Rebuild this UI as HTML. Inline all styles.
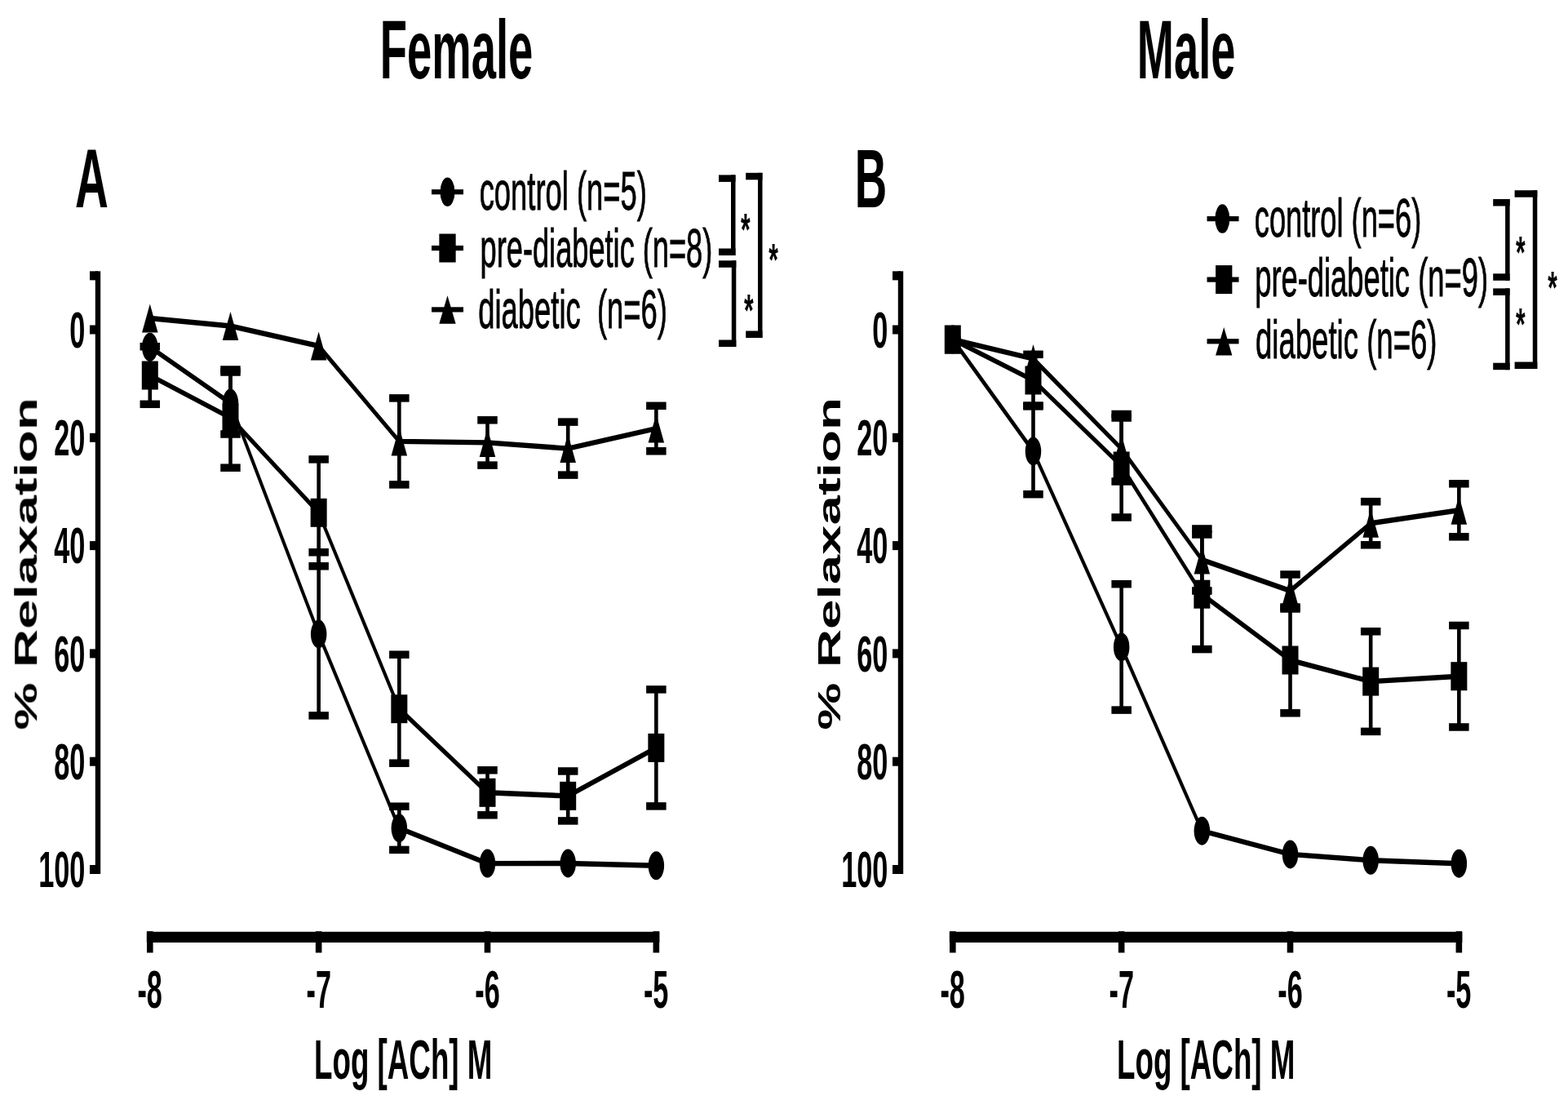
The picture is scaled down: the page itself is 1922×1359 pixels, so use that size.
<!DOCTYPE html>
<html><head><meta charset="utf-8"><title>Relaxation</title>
<style>
html,body{margin:0;padding:0;background:#fff;}
body{width:1922px;height:1359px;overflow:hidden;}
svg{display:block;}
text{font-family:"Liberation Sans",Arial,sans-serif;fill:#000;white-space:pre;}
</style></head><body>
<svg width="1922" height="1359" viewBox="0 0 1922 1359">
<defs><filter id="soft" x="0" y="0" width="1" height="1"><feGaussianBlur stdDeviation="0.7"/></filter></defs>
<rect width="1922" height="1359" fill="#fff"/>
<g fill="#000" filter="url(#soft)">
<rect x="116.80" y="332.35" width="6.40" height="738.65"/>
<rect x="110.00" y="332.35" width="10.00" height="11.00"/>
<rect x="110.00" y="398.50" width="10.00" height="11.00"/>
<rect x="110.00" y="530.80" width="10.00" height="11.00"/>
<rect x="110.00" y="663.10" width="10.00" height="11.00"/>
<rect x="110.00" y="795.40" width="10.00" height="11.00"/>
<rect x="110.00" y="927.70" width="10.00" height="11.00"/>
<rect x="110.00" y="1060.00" width="10.00" height="11.00"/>
<text transform="translate(85.32,425.67) scale(0.5450,1)" font-size="63.0" font-weight="bold">0</text>
<text transform="translate(66.23,557.97) scale(0.5450,1)" font-size="63.0" font-weight="bold">20</text>
<text transform="translate(66.23,690.27) scale(0.5450,1)" font-size="63.0" font-weight="bold">40</text>
<text transform="translate(66.23,822.57) scale(0.5450,1)" font-size="63.0" font-weight="bold">60</text>
<text transform="translate(66.23,954.87) scale(0.5450,1)" font-size="63.0" font-weight="bold">80</text>
<text transform="translate(47.14,1087.17) scale(0.5450,1)" font-size="63.0" font-weight="bold">100</text>
<rect x="179.80" y="1141.80" width="628.55" height="13.20"/>
<rect x="180.00" y="1141.20" width="7.60" height="26.30"/>
<text transform="translate(168.44,1235.10) scale(0.5350,1)" font-size="64.0" font-weight="bold">-8</text>
<rect x="386.85" y="1141.20" width="7.60" height="26.30"/>
<text transform="translate(375.52,1235.20) scale(0.5350,1)" font-size="64.0" font-weight="bold">-7</text>
<rect x="593.70" y="1141.20" width="7.60" height="26.30"/>
<text transform="translate(582.23,1235.10) scale(0.5350,1)" font-size="64.0" font-weight="bold">-6</text>
<rect x="800.55" y="1141.20" width="7.60" height="26.30"/>
<text transform="translate(788.94,1235.10) scale(0.5350,1)" font-size="64.0" font-weight="bold">-5</text>
<text transform="translate(385.04,1322.00) scale(0.5327,1)" font-size="69.0" font-weight="bold">Log [ACh] M</text>
<text transform="translate(45.50,894.64) rotate(-90) scale(1.0001,0.5814)" font-size="65.5" font-weight="bold">% Relaxation</text>
<polyline transform="scale(0.56,1)" points="328.21,425.30 504.45,494.00 697.59,777.00 873.83,1014.80 1066.96,1058.10 1243.20,1058.00 1436.34,1060.80" fill="none" stroke="#000" stroke-width="6.4" stroke-linejoin="round"/>
<polyline transform="scale(0.56,1)" points="328.21,460.00 504.45,512.00 697.59,628.30 873.83,868.70 1066.96,971.30 1243.20,975.40 1436.34,916.40" fill="none" stroke="#000" stroke-width="6.4" stroke-linejoin="round"/>
<polyline transform="scale(0.56,1)" points="328.21,390.00 504.45,399.50 697.59,424.00 873.83,540.90 1066.96,542.40 1243.20,549.60 1436.34,525.05" fill="none" stroke="#000" stroke-width="6.4" stroke-linejoin="round"/>
<rect x="280.19" y="456.00" width="4.60" height="38.00"/>
<rect x="270.24" y="451.25" width="24.50" height="9.50"/>
<rect x="280.19" y="494.00" width="4.60" height="38.00"/>
<rect x="270.24" y="527.25" width="24.50" height="9.50"/>
<rect x="388.35" y="676.80" width="4.60" height="100.20"/>
<rect x="378.40" y="672.05" width="24.50" height="9.50"/>
<rect x="388.35" y="777.00" width="4.60" height="99.90"/>
<rect x="378.40" y="872.15" width="24.50" height="9.50"/>
<rect x="487.04" y="988.20" width="4.60" height="26.60"/>
<rect x="477.09" y="983.45" width="24.50" height="9.50"/>
<rect x="487.04" y="1014.80" width="4.60" height="26.60"/>
<rect x="477.09" y="1036.65" width="24.50" height="9.50"/>
<rect x="181.50" y="424.70" width="4.60" height="35.30"/>
<rect x="171.55" y="419.95" width="24.50" height="9.50"/>
<rect x="181.50" y="460.00" width="4.60" height="35.30"/>
<rect x="171.55" y="490.55" width="24.50" height="9.50"/>
<rect x="280.19" y="453.00" width="4.60" height="59.00"/>
<rect x="270.24" y="448.25" width="24.50" height="9.50"/>
<rect x="280.19" y="512.00" width="4.60" height="61.20"/>
<rect x="270.24" y="568.45" width="24.50" height="9.50"/>
<rect x="388.35" y="562.90" width="4.60" height="65.40"/>
<rect x="378.40" y="558.15" width="24.50" height="9.50"/>
<rect x="388.35" y="628.30" width="4.60" height="65.50"/>
<rect x="378.40" y="689.05" width="24.50" height="9.50"/>
<rect x="487.04" y="802.20" width="4.60" height="66.50"/>
<rect x="477.09" y="797.45" width="24.50" height="9.50"/>
<rect x="487.04" y="868.70" width="4.60" height="66.50"/>
<rect x="477.09" y="930.45" width="24.50" height="9.50"/>
<rect x="595.20" y="943.80" width="4.60" height="27.50"/>
<rect x="585.25" y="939.05" width="24.50" height="9.50"/>
<rect x="595.20" y="971.30" width="4.60" height="27.50"/>
<rect x="585.25" y="994.05" width="24.50" height="9.50"/>
<rect x="693.89" y="945.00" width="4.60" height="30.40"/>
<rect x="683.94" y="940.25" width="24.50" height="9.50"/>
<rect x="693.89" y="975.40" width="4.60" height="30.50"/>
<rect x="683.94" y="1001.15" width="24.50" height="9.50"/>
<rect x="802.05" y="844.90" width="4.60" height="71.50"/>
<rect x="792.10" y="840.15" width="24.50" height="9.50"/>
<rect x="802.05" y="916.40" width="4.60" height="71.50"/>
<rect x="792.10" y="983.15" width="24.50" height="9.50"/>
<rect x="487.04" y="487.90" width="4.60" height="53.00"/>
<rect x="477.09" y="483.15" width="24.50" height="9.50"/>
<rect x="487.04" y="540.90" width="4.60" height="53.00"/>
<rect x="477.09" y="589.15" width="24.50" height="9.50"/>
<rect x="595.20" y="514.80" width="4.60" height="27.60"/>
<rect x="585.25" y="510.05" width="24.50" height="9.50"/>
<rect x="595.20" y="542.40" width="4.60" height="27.70"/>
<rect x="585.25" y="565.35" width="24.50" height="9.50"/>
<rect x="693.89" y="517.10" width="4.60" height="32.50"/>
<rect x="683.94" y="512.35" width="24.50" height="9.50"/>
<rect x="693.89" y="549.60" width="4.60" height="32.50"/>
<rect x="683.94" y="577.35" width="24.50" height="9.50"/>
<rect x="802.05" y="497.30" width="4.60" height="27.75"/>
<rect x="792.10" y="492.55" width="24.50" height="9.50"/>
<rect x="802.05" y="525.05" width="4.60" height="27.75"/>
<rect x="792.10" y="548.05" width="24.50" height="9.50"/>
<ellipse cx="183.80" cy="425.30" rx="9.75" ry="17.50"/>
<ellipse cx="282.49" cy="494.00" rx="9.75" ry="17.50"/>
<ellipse cx="390.65" cy="777.00" rx="9.75" ry="17.50"/>
<ellipse cx="489.34" cy="1014.80" rx="9.75" ry="17.50"/>
<ellipse cx="597.50" cy="1058.10" rx="9.75" ry="17.50"/>
<ellipse cx="696.19" cy="1058.00" rx="9.75" ry="17.50"/>
<ellipse cx="804.35" cy="1060.80" rx="9.75" ry="17.50"/>
<rect x="173.80" y="442.50" width="20.00" height="35.00"/>
<rect x="272.49" y="494.50" width="20.00" height="35.00"/>
<rect x="380.65" y="610.80" width="20.00" height="35.00"/>
<rect x="479.34" y="851.20" width="20.00" height="35.00"/>
<rect x="587.50" y="953.80" width="20.00" height="35.00"/>
<rect x="686.19" y="957.90" width="20.00" height="35.00"/>
<rect x="794.35" y="898.90" width="20.00" height="35.00"/>
<polygon points="183.80,372.50 193.55,407.50 174.05,407.50"/>
<polygon points="282.49,382.00 292.24,417.00 272.74,417.00"/>
<polygon points="390.65,406.50 400.40,441.50 380.90,441.50"/>
<polygon points="489.34,523.40 499.09,558.40 479.59,558.40"/>
<polygon points="597.50,524.90 607.25,559.90 587.75,559.90"/>
<polygon points="696.19,532.10 705.94,567.10 686.44,567.10"/>
<polygon points="804.35,507.55 814.10,542.55 794.60,542.55"/>
<rect x="1100.80" y="332.35" width="6.40" height="738.65"/>
<rect x="1094.00" y="332.35" width="10.00" height="11.00"/>
<rect x="1094.00" y="398.50" width="10.00" height="11.00"/>
<rect x="1094.00" y="530.80" width="10.00" height="11.00"/>
<rect x="1094.00" y="663.10" width="10.00" height="11.00"/>
<rect x="1094.00" y="795.40" width="10.00" height="11.00"/>
<rect x="1094.00" y="927.70" width="10.00" height="11.00"/>
<rect x="1094.00" y="1060.00" width="10.00" height="11.00"/>
<text transform="translate(1069.32,425.67) scale(0.5450,1)" font-size="63.0" font-weight="bold">0</text>
<text transform="translate(1050.23,557.97) scale(0.5450,1)" font-size="63.0" font-weight="bold">20</text>
<text transform="translate(1050.23,690.27) scale(0.5450,1)" font-size="63.0" font-weight="bold">40</text>
<text transform="translate(1050.23,822.57) scale(0.5450,1)" font-size="63.0" font-weight="bold">60</text>
<text transform="translate(1050.23,954.87) scale(0.5450,1)" font-size="63.0" font-weight="bold">80</text>
<text transform="translate(1031.14,1087.17) scale(0.5450,1)" font-size="63.0" font-weight="bold">100</text>
<rect x="1163.80" y="1141.80" width="628.55" height="13.20"/>
<rect x="1164.00" y="1141.20" width="7.60" height="26.30"/>
<text transform="translate(1152.44,1235.10) scale(0.5350,1)" font-size="64.0" font-weight="bold">-8</text>
<rect x="1370.85" y="1141.20" width="7.60" height="26.30"/>
<text transform="translate(1359.52,1235.20) scale(0.5350,1)" font-size="64.0" font-weight="bold">-7</text>
<rect x="1577.70" y="1141.20" width="7.60" height="26.30"/>
<text transform="translate(1566.23,1235.10) scale(0.5350,1)" font-size="64.0" font-weight="bold">-6</text>
<rect x="1784.55" y="1141.20" width="7.60" height="26.30"/>
<text transform="translate(1772.94,1235.10) scale(0.5350,1)" font-size="64.0" font-weight="bold">-5</text>
<text transform="translate(1369.04,1322.00) scale(0.5327,1)" font-size="69.0" font-weight="bold">Log [ACh] M</text>
<text transform="translate(1029.50,894.64) rotate(-90) scale(1.0001,0.5814)" font-size="65.5" font-weight="bold">% Relaxation</text>
<polyline transform="scale(0.56,1)" points="2085.36,416.00 2261.59,553.00 2454.73,792.90 2630.97,1018.20 2824.11,1046.90 3000.34,1054.30 3193.48,1058.20" fill="none" stroke="#000" stroke-width="6.4" stroke-linejoin="round"/>
<polyline transform="scale(0.56,1)" points="2085.36,416.00 2261.59,466.00 2454.73,571.00 2630.97,728.20 2824.11,809.00 3000.34,835.10 3193.48,828.70" fill="none" stroke="#000" stroke-width="6.4" stroke-linejoin="round"/>
<polyline transform="scale(0.56,1)" points="2085.36,416.00 2261.59,439.60 2454.73,550.00 2630.97,686.00 2824.11,724.00 3000.34,641.30 3193.48,625.30" fill="none" stroke="#000" stroke-width="6.4" stroke-linejoin="round"/>
<rect x="1264.19" y="497.90" width="4.60" height="55.10"/>
<rect x="1254.24" y="493.15" width="24.50" height="9.50"/>
<rect x="1264.19" y="553.00" width="4.60" height="52.70"/>
<rect x="1254.24" y="600.95" width="24.50" height="9.50"/>
<rect x="1372.35" y="715.70" width="4.60" height="77.20"/>
<rect x="1362.40" y="710.95" width="24.50" height="9.50"/>
<rect x="1372.35" y="792.90" width="4.60" height="77.20"/>
<rect x="1362.40" y="865.35" width="24.50" height="9.50"/>
<rect x="1264.19" y="434.30" width="4.60" height="31.70"/>
<rect x="1254.24" y="429.55" width="24.50" height="9.50"/>
<rect x="1264.19" y="466.00" width="4.60" height="31.00"/>
<rect x="1254.24" y="492.25" width="24.50" height="9.50"/>
<rect x="1372.35" y="507.50" width="4.60" height="63.50"/>
<rect x="1362.40" y="502.75" width="24.50" height="9.50"/>
<rect x="1372.35" y="571.00" width="4.60" height="63.00"/>
<rect x="1362.40" y="629.25" width="24.50" height="9.50"/>
<rect x="1471.04" y="655.00" width="4.60" height="73.20"/>
<rect x="1461.09" y="650.25" width="24.50" height="9.50"/>
<rect x="1471.04" y="728.20" width="4.60" height="67.40"/>
<rect x="1461.09" y="790.85" width="24.50" height="9.50"/>
<rect x="1579.20" y="746.00" width="4.60" height="63.00"/>
<rect x="1569.25" y="741.25" width="24.50" height="9.50"/>
<rect x="1579.20" y="809.00" width="4.60" height="64.80"/>
<rect x="1569.25" y="869.05" width="24.50" height="9.50"/>
<rect x="1677.89" y="773.80" width="4.60" height="61.30"/>
<rect x="1667.94" y="769.05" width="24.50" height="9.50"/>
<rect x="1677.89" y="835.10" width="4.60" height="61.30"/>
<rect x="1667.94" y="891.65" width="24.50" height="9.50"/>
<rect x="1786.05" y="766.50" width="4.60" height="62.20"/>
<rect x="1776.10" y="761.75" width="24.50" height="9.50"/>
<rect x="1786.05" y="828.70" width="4.60" height="62.30"/>
<rect x="1776.10" y="886.25" width="24.50" height="9.50"/>
<rect x="1372.35" y="512.00" width="4.60" height="38.00"/>
<rect x="1362.40" y="507.25" width="24.50" height="9.50"/>
<rect x="1372.35" y="550.00" width="4.60" height="40.00"/>
<rect x="1362.40" y="585.25" width="24.50" height="9.50"/>
<rect x="1471.04" y="648.00" width="4.60" height="38.00"/>
<rect x="1461.09" y="643.25" width="24.50" height="9.50"/>
<rect x="1471.04" y="686.00" width="4.60" height="38.00"/>
<rect x="1461.09" y="719.25" width="24.50" height="9.50"/>
<rect x="1579.20" y="704.00" width="4.60" height="20.00"/>
<rect x="1569.25" y="699.25" width="24.50" height="9.50"/>
<rect x="1579.20" y="724.00" width="4.60" height="20.00"/>
<rect x="1569.25" y="739.25" width="24.50" height="9.50"/>
<rect x="1677.89" y="614.70" width="4.60" height="26.60"/>
<rect x="1667.94" y="609.95" width="24.50" height="9.50"/>
<rect x="1677.89" y="641.30" width="4.60" height="26.50"/>
<rect x="1667.94" y="663.05" width="24.50" height="9.50"/>
<rect x="1786.05" y="592.80" width="4.60" height="32.50"/>
<rect x="1776.10" y="588.05" width="24.50" height="9.50"/>
<rect x="1786.05" y="625.30" width="4.60" height="32.50"/>
<rect x="1776.10" y="653.05" width="24.50" height="9.50"/>
<ellipse cx="1167.80" cy="416.00" rx="9.75" ry="17.50"/>
<ellipse cx="1266.49" cy="553.00" rx="9.75" ry="17.50"/>
<ellipse cx="1374.65" cy="792.90" rx="9.75" ry="17.50"/>
<ellipse cx="1473.34" cy="1018.20" rx="9.75" ry="17.50"/>
<ellipse cx="1581.50" cy="1046.90" rx="9.75" ry="17.50"/>
<ellipse cx="1680.19" cy="1054.30" rx="9.75" ry="17.50"/>
<ellipse cx="1788.35" cy="1058.20" rx="9.75" ry="17.50"/>
<rect x="1157.80" y="398.50" width="20.00" height="35.00"/>
<rect x="1256.49" y="448.50" width="20.00" height="35.00"/>
<rect x="1364.65" y="553.50" width="20.00" height="35.00"/>
<rect x="1463.34" y="710.70" width="20.00" height="35.00"/>
<rect x="1571.50" y="791.50" width="20.00" height="35.00"/>
<rect x="1670.19" y="817.60" width="20.00" height="35.00"/>
<rect x="1778.35" y="811.20" width="20.00" height="35.00"/>
<polygon points="1167.80,398.50 1177.55,433.50 1158.05,433.50"/>
<polygon points="1266.49,422.10 1276.24,457.10 1256.74,457.10"/>
<polygon points="1374.65,532.50 1384.40,567.50 1364.90,567.50"/>
<polygon points="1473.34,668.50 1483.09,703.50 1463.59,703.50"/>
<polygon points="1581.50,706.50 1591.25,741.50 1571.75,741.50"/>
<polygon points="1680.19,623.80 1689.94,658.80 1670.44,658.80"/>
<polygon points="1788.35,607.80 1798.10,642.80 1778.60,642.80"/>
<text transform="translate(465.85,95.80) scale(0.5334,1)" font-size="102" font-weight="bold">Female</text>
<text transform="translate(1393.87,95.80) scale(0.5313,1)" font-size="102" font-weight="bold">Male</text>
<text transform="translate(92.08,253.80) scale(0.5525,1)" font-size="102.5" font-weight="bold">A</text>
<text transform="translate(1047.84,253.50) scale(0.5326,1)" font-size="102.5" font-weight="bold">B</text>
<rect x="529.00" y="232.10" width="39.00" height="6.20"/>
<ellipse cx="548.50" cy="235.20" rx="9.00" ry="17.75"/>
<text transform="translate(587.67,257.40) scale(0.5510,1)" font-size="66" font-weight="normal" stroke="#000" stroke-width="0.9">control (n=5)</text>
<rect x="529.00" y="300.90" width="39.00" height="6.20"/>
<rect x="538.35" y="286.50" width="20.30" height="35.00"/>
<text transform="translate(588.58,326.70) scale(0.5486,1)" font-size="66" font-weight="normal" stroke="#000" stroke-width="0.9">pre-diabetic (n=8)</text>
<rect x="529.00" y="376.30" width="39.00" height="6.20"/>
<polygon points="548.50,362.15 558.65,396.65 538.35,396.65"/>
<text transform="translate(586.27,401.60) scale(0.5515,1)" font-size="66" font-weight="normal" stroke="#000" stroke-width="0.9">diabetic  (n=6)</text>
<rect x="1479.50" y="265.00" width="39.00" height="6.20"/>
<ellipse cx="1498.30" cy="268.10" rx="9.00" ry="17.75"/>
<text transform="translate(1537.78,289.70) scale(0.5491,1)" font-size="66" font-weight="normal" stroke="#000" stroke-width="0.9">control (n=6)</text>
<rect x="1479.50" y="339.50" width="39.00" height="6.20"/>
<rect x="1490.05" y="325.10" width="20.30" height="35.00"/>
<text transform="translate(1538.17,363.00) scale(0.5507,1)" font-size="66" font-weight="normal" stroke="#000" stroke-width="0.9">pre-diabetic (n=9)</text>
<rect x="1479.50" y="415.20" width="39.00" height="6.20"/>
<polygon points="1500.20,401.05 1510.35,435.55 1490.05,435.55"/>
<text transform="translate(1538.96,438.80) scale(0.5541,1)" font-size="66" font-weight="normal" stroke="#000" stroke-width="0.9">diabetic (n=6)</text>
<rect x="881.00" y="214.40" width="20.50" height="8.50"/>
<rect x="896.00" y="214.40" width="5.50" height="98.60"/>
<rect x="881.00" y="304.50" width="20.50" height="8.50"/>
<rect x="881.00" y="319.30" width="21.30" height="8.50"/>
<rect x="896.80" y="319.30" width="5.50" height="105.70"/>
<rect x="881.00" y="416.50" width="21.30" height="8.50"/>
<rect x="914.20" y="211.80" width="20.30" height="8.50"/>
<rect x="929.00" y="211.80" width="5.50" height="202.20"/>
<rect x="914.20" y="405.50" width="20.30" height="8.50"/>
<text transform="translate(907.96,299.56) scale(0.5420,1)" font-size="55.11" font-weight="bold">*</text>
<text transform="translate(912.06,398.66) scale(0.5420,1)" font-size="55.11" font-weight="bold">*</text>
<text transform="translate(942.16,336.66) scale(0.5420,1)" font-size="55.11" font-weight="bold">*</text>
<rect x="1830.20" y="244.00" width="20.40" height="8.50"/>
<rect x="1845.10" y="244.00" width="5.50" height="99.80"/>
<rect x="1830.20" y="335.30" width="20.40" height="8.50"/>
<rect x="1830.20" y="353.40" width="20.40" height="8.50"/>
<rect x="1845.10" y="353.40" width="5.50" height="99.80"/>
<rect x="1830.20" y="444.70" width="20.40" height="8.50"/>
<rect x="1856.60" y="233.20" width="27.70" height="8.50"/>
<rect x="1878.80" y="233.20" width="5.50" height="218.80"/>
<rect x="1856.60" y="443.50" width="27.70" height="8.50"/>
<text transform="translate(1857.96,328.16) scale(0.5420,1)" font-size="55.11" font-weight="bold">*</text>
<text transform="translate(1857.96,415.96) scale(0.5420,1)" font-size="55.11" font-weight="bold">*</text>
<text transform="translate(1897.16,370.96) scale(0.5420,1)" font-size="55.11" font-weight="bold">*</text>
</g>
</svg>
</body></html>
